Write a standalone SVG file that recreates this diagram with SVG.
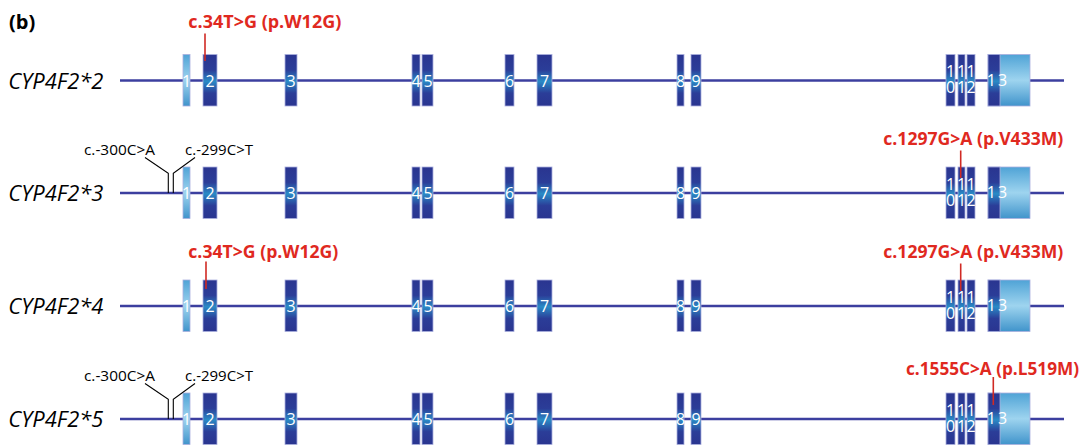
<svg xmlns="http://www.w3.org/2000/svg" width="1082" height="445" viewBox="0 0 1082 445">
<defs>
<linearGradient id="gd" x1="0" y1="0" x2="0" y2="1">
<stop offset="0" stop-color="#2a3590"/><stop offset="0.3" stop-color="#2b3d98"/><stop offset="0.52" stop-color="#2a8bc6"/><stop offset="0.75" stop-color="#2b3d98"/><stop offset="1" stop-color="#2a3590"/>
</linearGradient>
<linearGradient id="gl" x1="0" y1="0" x2="0" y2="1">
<stop offset="0" stop-color="#4fa3d6"/><stop offset="0.5" stop-color="#9ed4ef"/><stop offset="1" stop-color="#4094cb"/>
</linearGradient>
<style>
.bb{stroke:#3c3f9f;stroke-width:2.5;fill:none}
.dk{fill:url(#gd);stroke:#aab0de;stroke-width:0.8}
.lt{fill:url(#gl);stroke:#aab0de;stroke-width:0.8}
.nm{fill:#fff;font-family:"Open Sans","Liberation Sans",sans-serif;font-size:16px;text-anchor:middle}
.lab{fill:#000;font-family:"Open Sans","Liberation Sans",sans-serif;font-size:22px;font-style:italic}
.red{fill:#e0291f;font-family:"Open Sans","Liberation Sans",sans-serif;font-size:18px;font-weight:bold}
.blk{fill:#000;font-family:"Open Sans","Liberation Sans",sans-serif;font-size:15px}
.tick{stroke:#d02a24;stroke-width:1.6;fill:none}
.lead{stroke:#000;stroke-width:1.1;fill:none}
</style>
</defs>
<rect width="1082" height="445" fill="#fff"/>
<text x="9" y="29" font-family="Open Sans, Liberation Sans, sans-serif" font-size="20" font-weight="bold" fill="#000">(b)</text>

<g id="row1" transform="translate(0,80.5)">
<line class="bb" x1="120" y1="0" x2="1064" y2="0"/>
<text class="lab" x="8.3" y="8" textLength="95" lengthAdjust="spacingAndGlyphs">CYP4F2*2</text>
<g id="r1e1"><rect class="lt" x="183" y="-26" width="7" height="51.5"/><text class="nm" x="186.5" y="6">1</text></g>
<g id="r1e2"><rect class="dk" x="203" y="-26" width="14" height="51.5"/><text class="nm" x="210" y="6">2</text></g>
<g id="r1e3"><rect class="dk" x="285" y="-26" width="12" height="51.5"/><text class="nm" x="291" y="6">3</text></g>
<g id="r1e4"><rect class="dk" x="412" y="-26" width="8" height="51.5"/><text class="nm" x="416" y="6">4</text></g>
<g id="r1e5"><rect class="dk" x="422" y="-26" width="11" height="51.5"/><text class="nm" x="428" y="6">5</text></g>
<g id="r1e6"><rect class="dk" x="505" y="-26" width="9" height="51.5"/><text class="nm" x="509.5" y="6">6</text></g>
<g id="r1e7"><rect class="dk" x="537" y="-26" width="15" height="51.5"/><text class="nm" x="544.5" y="6">7</text></g>
<g id="r1e8"><rect class="dk" x="677" y="-26" width="7" height="51.5"/><text class="nm" x="680.5" y="6">8</text></g>
<g id="r1e9"><rect class="dk" x="691" y="-26" width="10" height="51.5"/><text class="nm" x="696" y="6">9</text></g>
<g id="r1e10"><rect class="dk" x="946" y="-26" width="9" height="51.5"/><text class="nm" x="950.5" y="-3.5">1</text><text class="nm" x="950.5" y="12.5">0</text></g>
<g id="r1e11"><rect class="dk" x="958" y="-26" width="7" height="51.5"/><text class="nm" x="961.5" y="-3.5">1</text><text class="nm" x="961.5" y="12.5">1</text></g>
<g id="r1e12"><rect class="dk" x="967" y="-26" width="8" height="51.5"/><text class="nm" x="971" y="-3.5">1</text><text class="nm" x="971" y="12.5">2</text></g>
<g id="r1e13"><rect class="lt" x="988" y="-26" width="42" height="51.5"/><rect class="dk" x="988" y="-26" width="12" height="51.5"/><text class="nm" x="998" y="5" font-size="17" letter-spacing="2">13</text></g>
<text class="red" x="188.3" y="-52.2" textLength="153" lengthAdjust="spacingAndGlyphs">c.34T&gt;G (p.W12G)</text>
</g>

<g id="row2" transform="translate(0,193)">
<line class="bb" x1="120" y1="0" x2="1064" y2="0"/>
<text class="lab" x="8.3" y="8" textLength="95" lengthAdjust="spacingAndGlyphs">CYP4F2*3</text>
<g id="r2e1"><rect class="lt" x="183" y="-26" width="7" height="51.5"/><text class="nm" x="186.5" y="6">1</text></g>
<g id="r2e2"><rect class="dk" x="203" y="-26" width="14" height="51.5"/><text class="nm" x="210" y="6">2</text></g>
<g id="r2e3"><rect class="dk" x="285" y="-26" width="12" height="51.5"/><text class="nm" x="291" y="6">3</text></g>
<g id="r2e4"><rect class="dk" x="412" y="-26" width="8" height="51.5"/><text class="nm" x="416" y="6">4</text></g>
<g id="r2e5"><rect class="dk" x="422" y="-26" width="11" height="51.5"/><text class="nm" x="428" y="6">5</text></g>
<g id="r2e6"><rect class="dk" x="505" y="-26" width="9" height="51.5"/><text class="nm" x="509.5" y="6">6</text></g>
<g id="r2e7"><rect class="dk" x="537" y="-26" width="15" height="51.5"/><text class="nm" x="544.5" y="6">7</text></g>
<g id="r2e8"><rect class="dk" x="677" y="-26" width="7" height="51.5"/><text class="nm" x="680.5" y="6">8</text></g>
<g id="r2e9"><rect class="dk" x="691" y="-26" width="10" height="51.5"/><text class="nm" x="696" y="6">9</text></g>
<g id="r2e10"><rect class="dk" x="946" y="-26" width="9" height="51.5"/><text class="nm" x="950.5" y="-3.5">1</text><text class="nm" x="950.5" y="12.5">0</text></g>
<g id="r2e11"><rect class="dk" x="958" y="-26" width="7" height="51.5"/><text class="nm" x="961.5" y="-3.5">1</text><text class="nm" x="961.5" y="12.5">1</text></g>
<g id="r2e12"><rect class="dk" x="967" y="-26" width="8" height="51.5"/><text class="nm" x="971" y="-3.5">1</text><text class="nm" x="971" y="12.5">2</text></g>
<g id="r2e13"><rect class="lt" x="988" y="-26" width="42" height="51.5"/><rect class="dk" x="988" y="-26" width="12" height="51.5"/><text class="nm" x="998" y="5" font-size="17" letter-spacing="2">13</text></g>
<text class="blk" x="84" y="-38.5" textLength="71" lengthAdjust="spacingAndGlyphs">c.-300C&gt;A</text>
<text class="blk" x="185" y="-38.5" textLength="68" lengthAdjust="spacingAndGlyphs">c.-299C&gt;T</text>
<text class="red" x="883.3" y="-48" textLength="180" lengthAdjust="spacingAndGlyphs">c.1297G&gt;A (p.V433M)</text>
</g>

<g id="row3" transform="translate(0,306)">
<line class="bb" x1="120" y1="0" x2="1064" y2="0"/>
<text class="lab" x="8.3" y="8" textLength="95" lengthAdjust="spacingAndGlyphs">CYP4F2*4</text>
<g id="r3e1"><rect class="lt" x="183" y="-26" width="7" height="51.5"/><text class="nm" x="186.5" y="6">1</text></g>
<g id="r3e2"><rect class="dk" x="203" y="-26" width="14" height="51.5"/><text class="nm" x="210" y="6">2</text></g>
<g id="r3e3"><rect class="dk" x="285" y="-26" width="12" height="51.5"/><text class="nm" x="291" y="6">3</text></g>
<g id="r3e4"><rect class="dk" x="412" y="-26" width="8" height="51.5"/><text class="nm" x="416" y="6">4</text></g>
<g id="r3e5"><rect class="dk" x="422" y="-26" width="11" height="51.5"/><text class="nm" x="428" y="6">5</text></g>
<g id="r3e6"><rect class="dk" x="505" y="-26" width="9" height="51.5"/><text class="nm" x="509.5" y="6">6</text></g>
<g id="r3e7"><rect class="dk" x="537" y="-26" width="15" height="51.5"/><text class="nm" x="544.5" y="6">7</text></g>
<g id="r3e8"><rect class="dk" x="677" y="-26" width="7" height="51.5"/><text class="nm" x="680.5" y="6">8</text></g>
<g id="r3e9"><rect class="dk" x="691" y="-26" width="10" height="51.5"/><text class="nm" x="696" y="6">9</text></g>
<g id="r3e10"><rect class="dk" x="946" y="-26" width="9" height="51.5"/><text class="nm" x="950.5" y="-3.5">1</text><text class="nm" x="950.5" y="12.5">0</text></g>
<g id="r3e11"><rect class="dk" x="958" y="-26" width="7" height="51.5"/><text class="nm" x="961.5" y="-3.5">1</text><text class="nm" x="961.5" y="12.5">1</text></g>
<g id="r3e12"><rect class="dk" x="967" y="-26" width="8" height="51.5"/><text class="nm" x="971" y="-3.5">1</text><text class="nm" x="971" y="12.5">2</text></g>
<g id="r3e13"><rect class="lt" x="988" y="-26" width="42" height="51.5"/><rect class="dk" x="988" y="-26" width="12" height="51.5"/><text class="nm" x="998" y="5" font-size="17" letter-spacing="2">13</text></g>
<text class="red" x="188.3" y="-48" textLength="150" lengthAdjust="spacingAndGlyphs">c.34T&gt;G (p.W12G)</text>
<text class="red" x="883.3" y="-48" textLength="180" lengthAdjust="spacingAndGlyphs">c.1297G&gt;A (p.V433M)</text>
</g>

<g id="row4" transform="translate(0,419)">
<line class="bb" x1="120" y1="0" x2="1064" y2="0"/>
<text class="lab" x="8.3" y="8" textLength="95" lengthAdjust="spacingAndGlyphs">CYP4F2*5</text>
<g id="r4e1"><rect class="lt" x="183" y="-26" width="7" height="51.5"/><text class="nm" x="186.5" y="6">1</text></g>
<g id="r4e2"><rect class="dk" x="203" y="-26" width="14" height="51.5"/><text class="nm" x="210" y="6">2</text></g>
<g id="r4e3"><rect class="dk" x="285" y="-26" width="12" height="51.5"/><text class="nm" x="291" y="6">3</text></g>
<g id="r4e4"><rect class="dk" x="412" y="-26" width="8" height="51.5"/><text class="nm" x="416" y="6">4</text></g>
<g id="r4e5"><rect class="dk" x="422" y="-26" width="11" height="51.5"/><text class="nm" x="428" y="6">5</text></g>
<g id="r4e6"><rect class="dk" x="505" y="-26" width="9" height="51.5"/><text class="nm" x="509.5" y="6">6</text></g>
<g id="r4e7"><rect class="dk" x="537" y="-26" width="15" height="51.5"/><text class="nm" x="544.5" y="6">7</text></g>
<g id="r4e8"><rect class="dk" x="677" y="-26" width="7" height="51.5"/><text class="nm" x="680.5" y="6">8</text></g>
<g id="r4e9"><rect class="dk" x="691" y="-26" width="10" height="51.5"/><text class="nm" x="696" y="6">9</text></g>
<g id="r4e10"><rect class="dk" x="946" y="-26" width="9" height="51.5"/><text class="nm" x="950.5" y="-3.5">1</text><text class="nm" x="950.5" y="12.5">0</text></g>
<g id="r4e11"><rect class="dk" x="958" y="-26" width="7" height="51.5"/><text class="nm" x="961.5" y="-3.5">1</text><text class="nm" x="961.5" y="12.5">1</text></g>
<g id="r4e12"><rect class="dk" x="967" y="-26" width="8" height="51.5"/><text class="nm" x="971" y="-3.5">1</text><text class="nm" x="971" y="12.5">2</text></g>
<g id="r4e13"><rect class="lt" x="988" y="-26" width="42" height="51.5"/><rect class="dk" x="988" y="-26" width="12" height="51.5"/><text class="nm" x="998" y="5" font-size="17" letter-spacing="2">13</text></g>
<text class="blk" x="84" y="-38.5" textLength="71" lengthAdjust="spacingAndGlyphs">c.-300C&gt;A</text>
<text class="blk" x="185" y="-38.5" textLength="68" lengthAdjust="spacingAndGlyphs">c.-299C&gt;T</text>
<text class="red" x="906" y="-44" textLength="173" lengthAdjust="spacingAndGlyphs">c.1555C&gt;A (p.L519M)</text>
</g>

<g id="connectors">
<path class="tick" d="M205,33.5V61"/>
<path class="tick" d="M960.7,150.5V178"/>
<path class="tick" d="M206,261.5V289"/>
<path class="tick" d="M960.7,263.5V291"/>
<path class="tick" d="M993.3,377V405"/>
<path class="lead" d="M145,157.5L168.3,173.3V193"/>
<path class="lead" d="M195,157.5L173.3,173.3V193"/>
<path class="lead" d="M145,383.5L168.3,399.3V419"/>
<path class="lead" d="M195,383.5L173.3,399.3V419"/>
</g>
</svg>
